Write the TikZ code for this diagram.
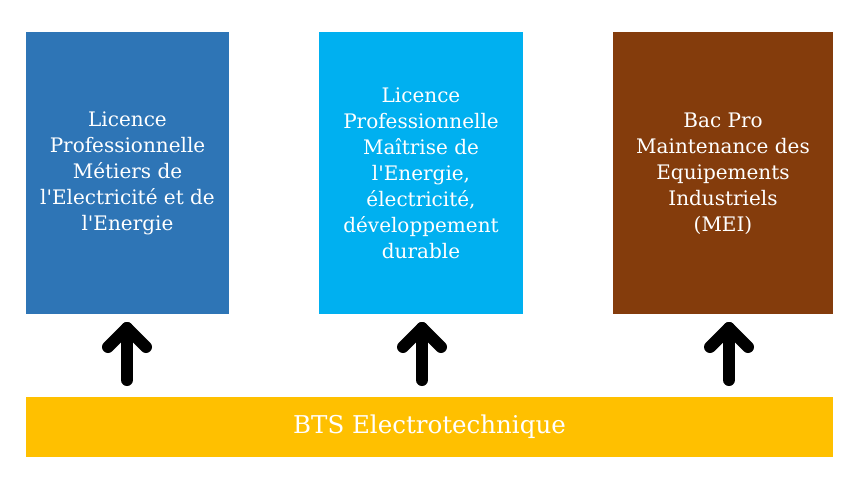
\documentclass[tikz,border=0pt]{standalone}
\usepackage{fontspec}
\setmainfont{DejaVu Serif}[Ligatures=TeXOff]
\begin{document}
\begin{tikzpicture}[x=1pt,y=-1pt,
  box/.style={draw=none,inner sep=0pt,text=white,align=center,
    font=\fontsize{20}{26}\selectfont},
  upar/.style={line width=12pt,line cap=round,line join=round,black}]
\useasboundingbox (0,0) rectangle (848,488);
\definecolor{cA}{HTML}{2E75B6}
\definecolor{cB}{HTML}{00B0F0}
\definecolor{cC}{HTML}{843C0C}
\definecolor{cD}{HTML}{FFC000}
\fill[cA] (26,32) rectangle (229,314);
\fill[cB] (319,32) rectangle (523,314);
\fill[cC] (613,32) rectangle (833,314);
\fill[cD] (26,397) rectangle (833,457);
\node[box] (a) at (127.5,173.5) {Licence\\Professionnelle\\Métiers de\\l'Electricité et de\\l'Energie};
\node[box] (b) at (421,173.5) {Licence\\Professionnelle\\Maîtrise de\\l'Energie,\\électricité,\\développement\\durable};
\node[box] (c) at (723,173.5) {Bac Pro\\Maintenance des\\Equipements\\Industriels\\(MEI)};
\node[box,font=\fontsize{24.5}{26}\selectfont] (d) at (429.5,427) {BTS Electrotechnique};
\foreach \n/\x in {p/127,q/422,r/729}{
  \coordinate (\n1) at (\x,380);
  \coordinate (\n2) at (\x,328);
  \draw[upar] (\n1) -- (\n2);
  \draw[upar] ([xshift=-19pt,yshift=-19pt]\n2) -- (\n2) -- ([xshift=19pt,yshift=-19pt]\n2);
}
\end{tikzpicture}
\end{document}
